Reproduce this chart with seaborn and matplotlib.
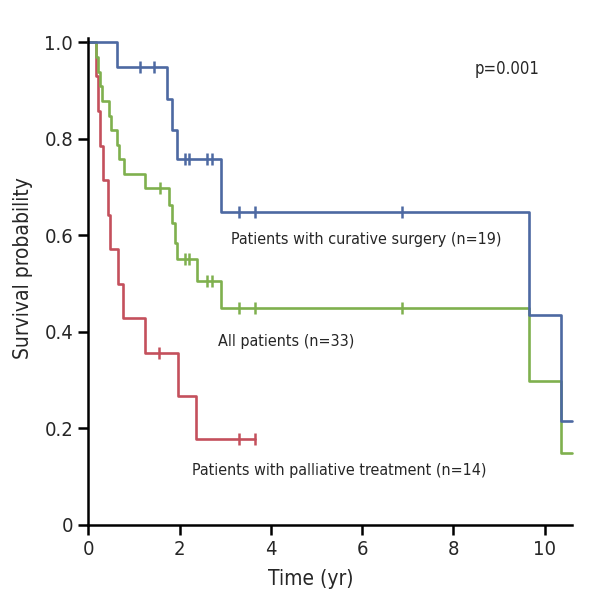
import numpy as np
import pandas as pd
import seaborn as sns
from matplotlib import pyplot as plt

# Curva de sobrevida - cirurgia curativa (n=19)
curativa_t = [0, 0.62, 1.73, 1.83, 1.93, 2.91, 9.65, 10.37, 10.6]
curativa_s = [1.0, 0.948, 0.883, 0.819, 0.758, 0.649, 0.434, 0.216, 0.216]
curativa_cens = [1.13, 1.44, 2.11, 2.20, 2.60, 2.71, 3.29, 3.65, 6.88]

# Todos os pacientes (n=33)
todos_t = [0, 0.16, 0.21, 0.25, 0.29, 0.46, 0.49, 0.63, 0.67, 0.78, 1.24,
           1.76, 1.83, 1.89, 1.93, 2.38, 2.91, 9.65, 10.37, 10.6]
todos_s = [1.0, 0.970, 0.939, 0.909, 0.879, 0.848, 0.818, 0.788, 0.758, 0.727, 0.697,
           0.662, 0.625, 0.585, 0.551, 0.505, 0.450, 0.299, 0.149, 0.149]
todos_cens = [1.57, 2.11, 2.20, 2.60, 2.71, 3.29, 3.66, 6.88]

# Tratamento paliativo (n=14)
paliativo_t = [0, 0.17, 0.21, 0.25, 0.32, 0.43, 0.48, 0.65, 0.76, 1.24, 1.97, 2.35, 3.65]
paliativo_s = [1.0, 0.929, 0.857, 0.786, 0.714, 0.643, 0.571, 0.500, 0.429, 0.357, 0.268, 0.179, 0.179]
paliativo_cens = [1.54, 3.29, 3.64]

x_ticks = [0, 2, 4, 6, 8, 10]
y_ticks = [0, 0.2, 0.4, 0.6, 0.8, 1.0]
y_labels = ['0', '0.2', '0.4', '0.6', '0.8', '1.0']

sns.set_style('ticks')
plt.rcParams['font.family'] = ['DejaVu Sans']
plt.rcParams['font.stretch'] = 'condensed'

fig = plt.figure(figsize=(6.04, 6.06), dpi=100)
ax = fig.add_axes([0.1465, 0.1337, 0.8005, 0.803])

grupos = [
    (paliativo_t, paliativo_s, paliativo_cens, '#c4505c'),
    (todos_t, todos_s, todos_cens, '#7fb04e'),
    (curativa_t, curativa_s, curativa_cens, '#4d69a2'),
]

for t, s, cens, cor in grupos:
    df = pd.DataFrame({'t': t, 's': s})
    sns.lineplot(data=df, x='t', y='s', drawstyle='steps-post', color=cor,
                 linewidth=1.9, ax=ax, clip_on=False)
    # posicao das marcas de censura na curva
    idx = np.searchsorted(np.array(t), np.array(cens), side='right') - 1
    ax.plot(cens, np.array(s)[idx], linestyle='none', marker='|', color=cor,
            markersize=8, markeredgewidth=1.8, clip_on=False)

ax.set_xlim(0, 10.6)
ax.set_ylim(0, 1.008)
ax.set_xticks(x_ticks)
ax.set_yticks(y_ticks)
ax.set_yticklabels(y_labels)
ax.tick_params(axis='both', labelsize=14.5, width=1.8, length=7, color='black', pad=4)
for lado in ['left', 'bottom']:
    ax.spines[lado].set_linewidth(1.8)
    ax.spines[lado].set_color('black')
sns.despine(ax=ax)

ax.set_xlabel('Time (yr)', fontsize=15)
ax.set_ylabel('Survival probability', fontsize=15)
ax.xaxis.set_label_coords(0.46, -0.09)
ax.yaxis.set_label_coords(-0.115, 0.528)

ax.text(8.46, 0.944, 'p=0.001', fontsize=12, va='center')
ax.text(3.12, 0.592, 'Patients with curative surgery (n=19)', fontsize=11.5, va='center')
ax.text(2.83, 0.381, 'All patients (n=33)', fontsize=11.5, va='center')
ax.text(2.27, 0.113, 'Patients with palliative treatment (n=14)', fontsize=11.5, va='center')

fig.savefig('out.png', dpi=100)
